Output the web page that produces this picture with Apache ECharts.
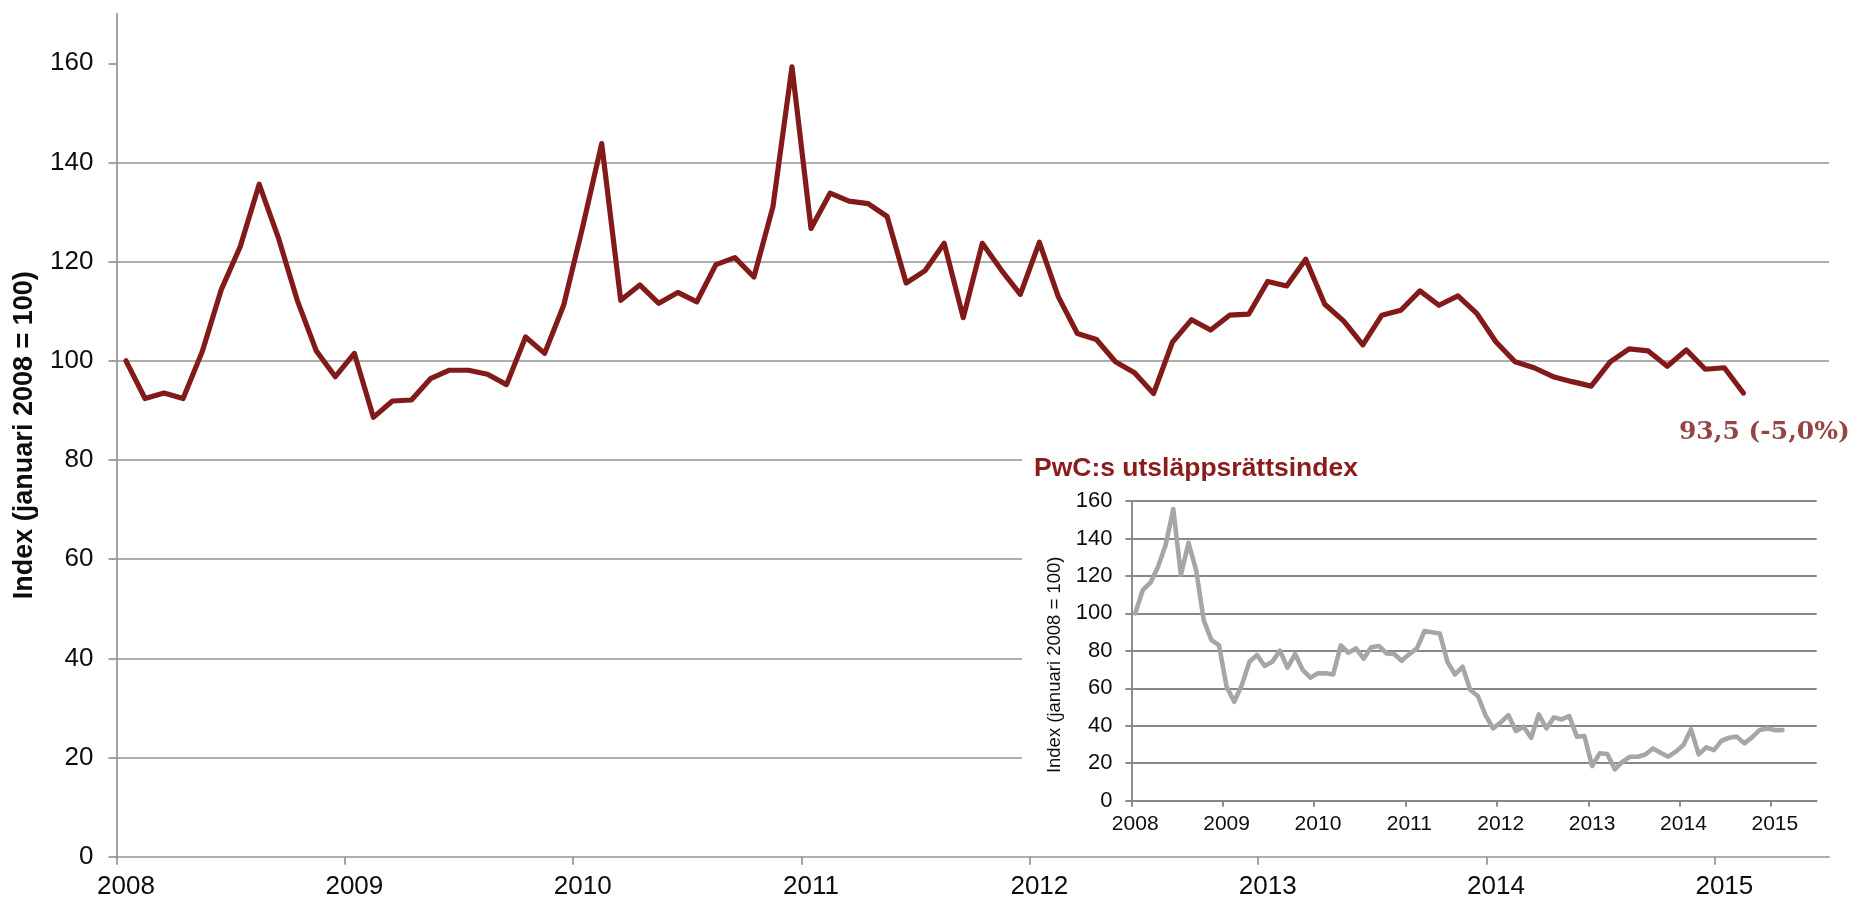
<!DOCTYPE html>
<html>
<head>
<meta charset="utf-8">
<script src="https://cdn.jsdelivr.net/npm/echarts@6/dist/echarts.min.js"></script>
<style>
html, body { margin: 0; padding: 0; background: #ffffff; }
#main { position: absolute; left: 0; top: 0; width: 1862px; height: 900px; }
#inset { position: absolute; left: 1022px; top: 447px; width: 840px; height: 402px; background: #ffffff; }
</style>
</head>
<body>
<div id="main"></div>
<div id="inset"></div>
<script>
// ---- data ----
const yearLabels = ['2008', '2009', '2010', '2011', '2012', '2013', '2014', '2015'];
const monthsOnAxis = 90; // Jan 2008 .. Jun 2015 (monthly categories)

// Main index (monthly, Jan 2008 = 100), Jan 2008 .. Feb 2015
const mainValues = [
  100.0, 92.4, 93.5, 92.4, 101.8, 114.3, 123.0, 135.6, 124.9, 112.2, 102.0, 96.8,
  101.5, 88.6, 91.9, 92.1, 96.4, 98.1, 98.1, 97.3, 95.2, 104.8, 101.5, 111.2,
  127.0, 143.8, 112.2, 115.3, 111.6, 113.8, 111.9, 119.4, 120.8, 116.9, 131.1, 159.3,
  126.7, 133.8, 132.2, 131.7, 129.1, 115.7, 118.2, 123.7, 108.7, 123.7, 118.3, 113.4,
  123.9, 112.9, 105.5, 104.3, 99.8, 97.6, 93.4, 103.8, 108.3, 106.2, 109.2, 109.4,
  116.0, 115.1, 120.5, 111.4, 108.0, 103.2, 109.2, 110.2, 114.1, 111.2, 113.1, 109.5,
  103.8, 99.8, 98.6, 96.8, 95.8, 94.9, 99.8, 102.4, 102.0, 98.9, 102.2, 98.3,
  98.6, 93.5
];

// Inset: PwC:s utsläppsrättsindex, Jan 2008 .. Feb 2015
const insetValues = [
  100.0, 112.5, 116.4, 124.9, 136.5, 155.7, 120.5, 137.7, 123.1, 96.4, 85.8, 83.1,
  60.9, 52.8, 61.7, 74.2, 77.8, 71.9, 74.2, 80.1, 71.0, 78.3, 69.8, 65.7,
  68.0, 68.0, 67.4, 82.9, 79.0, 81.3, 75.8, 81.9, 82.6, 78.6, 78.3, 74.7,
  78.3, 81.3, 90.6, 89.9, 89.3, 74.2, 67.4, 71.5, 59.1, 55.9, 45.7, 38.6,
  41.8, 45.7, 37.2, 39.5, 33.6, 46.1, 38.6, 44.5, 43.4, 45.2, 34.2, 34.5,
  18.5, 25.3, 24.9, 16.7, 20.8, 23.5, 23.5, 24.7, 27.9, 25.6, 23.5, 26.2,
  29.7, 38.1, 24.7, 28.5, 27.0, 32.0, 33.6, 34.2, 30.6, 33.8, 37.7, 38.6,
  37.7, 37.7
];

const mainYTicks = [0, 20, 40, 60, 80, 100, 120, 140, 160];
const insetYTicks = [0, 20, 40, 60, 80, 100, 120, 140, 160];
const lastValueLabel = '93,5 (-5,0%)';
const axisTitle = 'Index (januari 2008 = 100)';
const insetTitle = 'PwC:s utsläppsrättsindex';

// ---- helpers (positions come from the value axis scale) ----
const yearTickValues = yearLabels.map((y, k) => k * 12);          // tick marks between categories
const yearLabelValues = yearLabels.map((y, k) => k * 12 + 0.5);   // labels centred on January
const yearFormatter = v => yearLabels[Math.floor(v / 12)] || '';
const toPoints = arr => arr.map((v, i) => [i + 0.5, v]);

const gridGray = '#939393';
const insetGray = '#878787';
const darkRed = '#831a1a';

// ---- main chart ----
const main = echarts.init(document.getElementById('main'), null, { renderer: 'canvas' });
main.setOption({
  animation: false,
  backgroundColor: '#ffffff',
  grid: { left: 116.5, right: 33, top: 13.7, bottom: 43.3, containLabel: false, outerBoundsMode: 'none' },
  xAxis: {
    type: 'value', min: 0, max: monthsOnAxis,
    axisLine: { show: true, onZero: false, lineStyle: { color: gridGray, width: 1.7 } },
    axisTick: { show: true, inside: false, length: 8, customValues: yearTickValues, lineStyle: { color: gridGray, width: 1.7 } },
    axisLabel: { show: true, customValues: yearLabelValues, formatter: yearFormatter, margin: 17,
      fontFamily: 'Liberation Sans, Arial, sans-serif', fontSize: 26, color: '#0d0d0d' },
    splitLine: { show: false }
  },
  yAxis: {
    type: 'value', min: 0, max: 170, interval: 20,
    name: axisTitle, nameLocation: 'middle', nameGap: 78,
    nameTextStyle: { fontFamily: 'Liberation Sans, Arial, sans-serif', fontSize: 27, fontWeight: 'bold', color: '#0d0d0d' },
    axisLine: { show: true, lineStyle: { color: gridGray, width: 1.7 } },
    axisTick: { show: true, inside: false, length: 8, customValues: mainYTicks, lineStyle: { color: gridGray, width: 1.7 } },
    axisLabel: { show: true, customValues: mainYTicks, margin: 23,
      fontFamily: 'Liberation Sans, Arial, sans-serif', fontSize: 26, color: '#0d0d0d' },
    splitLine: { show: true, showMinLine: false, showMaxLine: false, lineStyle: { color: gridGray, width: 1.7 } }
  },
  series: [
    {
      type: 'line', data: toPoints(mainValues), showSymbol: false, symbol: 'none',
      lineStyle: { color: darkRed, width: 5.2, join: 'round', cap: 'round' },
      z: 3
    },
    {
      type: 'scatter', data: [[mainValues.length - 0.5, mainValues[mainValues.length - 1]]],
      symbolSize: 1, itemStyle: { color: 'rgba(0,0,0,0)' },
      label: {
        show: true, position: 'inside', align: 'center', verticalAlign: 'middle', offset: [21, 39],
        formatter: lastValueLabel,
        fontFamily: 'Georgia, DejaVu Serif, serif', fontWeight: 'bold', fontSize: 25, color: '#7a1517'
      },
      z: 4
    }
  ]
});

// ---- inset chart ----
const inset = echarts.init(document.getElementById('inset'), null, { renderer: 'canvas' });
inset.setOption({
  animation: false,
  backgroundColor: '#ffffff',
  graphic: [
    { type: 'text', left: 12, top: 8,
      style: { text: insetTitle, font: 'bold 26.5px "Liberation Sans", Arial, sans-serif', fill: '#8b1c1c' } }
  ],
  grid: { left: 109.4, right: 45.3, top: 54, bottom: 48.3, containLabel: false, outerBoundsMode: 'none' },
  xAxis: {
    type: 'value', min: 0, max: monthsOnAxis,
    axisLine: { show: true, onZero: false, lineStyle: { color: insetGray, width: 1.9 } },
    axisTick: { show: true, inside: false, length: 6, customValues: yearTickValues, lineStyle: { color: insetGray, width: 1.9 } },
    axisLabel: { show: true, customValues: yearLabelValues, formatter: yearFormatter, margin: 13,
      fontFamily: 'Liberation Sans, Arial, sans-serif', fontSize: 21, color: '#0d0d0d' },
    splitLine: { show: false }
  },
  yAxis: {
    type: 'value', min: 0, max: 160, interval: 20,
    name: axisTitle, nameLocation: 'middle', nameGap: 64,
    nameTextStyle: { fontFamily: 'Liberation Sans, Arial, sans-serif', fontSize: 18.5, color: '#0d0d0d', padding: [0, 28, 0, 0] },
    axisLine: { show: true, lineStyle: { color: insetGray, width: 1.9 } },
    axisTick: { show: true, inside: false, length: 6, customValues: insetYTicks, lineStyle: { color: insetGray, width: 1.9 } },
    axisLabel: { show: true, customValues: insetYTicks, margin: 19,
      fontFamily: 'Liberation Sans, Arial, sans-serif', fontSize: 22, color: '#0d0d0d' },
    splitLine: { show: true, showMinLine: false, lineStyle: { color: insetGray, width: 1.9 } }
  },
  series: [
    {
      type: 'line', data: toPoints(insetValues), showSymbol: false, symbol: 'none',
      lineStyle: { color: '#a6a6a6', width: 4.6, join: 'round', cap: 'round' },
      z: 3
    }
  ]
});
</script>
</body>
</html>
